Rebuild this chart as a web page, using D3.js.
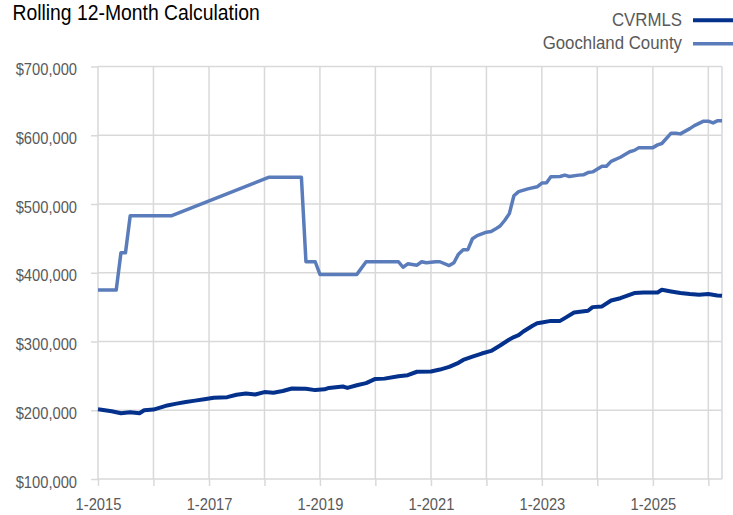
<!DOCTYPE html>
<html>
<head>
<meta charset="utf-8">
<script src="https://cdn.jsdelivr.net/npm/d3@7"></script>
<style>
  body { margin: 0; background: #fff; }
  svg { display: block; font-family: "Liberation Sans", Arial, sans-serif; }
  .grid line { stroke: #d9d9d9; stroke-width: 1.5; }
  .axis path { display: none; }
  .axis line { stroke: #d9d9d9; stroke-width: 1.5; }
  .axis text { fill: #595959; font-size: 16px; }
</style>
</head>
<body>
<svg id="chart"></svg>
<script>
const title = "Rolling 12-Month Calculation";
const seriesNames = ["CVRMLS", "Goochland County"];
const seriesColors = ["#04318c", "#5b7cbb"];

const cvrmlsMonths = ["2015-01","2015-04","2015-06","2015-08","2015-10","2015-11","2016-01","2016-03","2016-04","2016-06",
  "2016-08","2016-10","2016-12","2017-02","2017-05","2017-07","2017-09","2017-11","2018-01","2018-03",
  "2018-05","2018-07","2018-10","2018-12","2019-02","2019-03","2019-06","2019-07","2019-09","2019-11",
  "2020-01","2020-03","2020-06","2020-08","2020-10","2021-01","2021-03","2021-05","2021-07","2021-08",
  "2021-10","2021-12","2022-02","2022-04","2022-06","2022-07","2022-08","2022-09","2022-11","2022-12",
  "2023-01","2023-03","2023-05","2023-06","2023-08","2023-11","2023-12","2024-02","2024-04","2024-06",
  "2024-09","2024-11","2025-02","2025-03","2025-05","2025-07","2025-09","2025-11","2026-01","2026-03","2026-04"];
const cvrmlsValues = [201400,198500,195700,197000,195700,200000,201000,205000,207000,209600,
  212000,214000,216000,218300,219000,222600,224500,223000,226400,225500,
  228000,231700,231300,229300,230500,232500,234500,232500,236400,239500,
  245600,246000,249500,251000,256000,256300,259200,263000,269000,273200,
  278000,282500,286300,294200,302900,306400,309200,314600,323000,326600,
  327700,330000,330000,334000,342200,344700,350000,351000,359700,363000,
  370500,371300,371300,375300,372800,370500,369000,368000,369000,367000,366500];

const goochMonths = ["2015-01","2015-05","2015-06","2015-07","2015-08","2016-05","2018-02","2018-09","2018-10","2018-12",
  "2019-01","2019-09","2019-11","2020-06","2020-07","2020-08","2020-10","2020-11","2020-12","2021-02",
  "2021-03","2021-05","2021-06","2021-07","2021-08","2021-09","2021-10","2021-11","2022-01","2022-02",
  "2022-03","2022-04","2022-05","2022-06","2022-07","2022-08","2022-10","2022-12","2023-01","2023-02",
  "2023-03","2023-05","2023-06","2023-07","2023-09","2023-10","2023-11","2023-12","2024-02","2024-03",
  "2024-04","2024-06","2024-08","2024-09","2024-10","2025-01","2025-02","2025-03","2025-05","2025-06",
  "2025-07","2025-09","2025-10","2025-12","2026-01","2026-02","2026-03","2026-04"];
const goochValues = [375000,375000,429000,429000,483000,483000,539000,539000,416000,416000,
  397600,397600,416000,416000,408000,413000,411000,416000,414500,416000,
  416000,410500,414500,427000,433600,433600,449500,454000,459000,460000,
  463500,468000,476000,486000,512000,518000,522000,525000,530500,531000,
  539600,540000,542000,540000,542000,542400,545700,546700,555000,555000,
  562000,568000,576000,578000,582000,582000,586000,588000,603000,603000,
  602000,609600,614000,620500,620500,618000,621000,621000];

const yTicks = [100000, 200000, 300000, 400000, 500000, 600000, 700000];
const gridYears = d3.range(2015, 2027);
const labelYears = [2015, 2017, 2019, 2021, 2023, 2025];

// the reference uses a condensed face; squeeze Liberation Sans horizontally instead
function squeeze(sel, s) {
  sel.each(function () {
    const t = d3.select(this);
    const x0 = +(t.attr("x") || 0);
    t.attr("x", x0 / s).attr("transform", `scale(${s},1)`);
  });
}

class LineChart {
  margin = { top: 66.5, right: 11, bottom: 36, left: 98 }

  constructor(svg, width = 733, height = 515) {
    this.svg = d3.select(svg);
    this.width = width;
    this.height = height;
  }

  initialize() {
    this.svg.attr("width", this.width).attr("height", this.height);
    const m = this.margin;
    this.innerW = this.width - m.left - m.right;
    this.innerH = this.height - m.top - m.bottom;

    this.xScale = d3.scaleTime()
      .domain([new Date(2015, 0, 1), new Date(2026, 3, 1)])
      .range([m.left, m.left + this.innerW]);
    this.yScale = d3.scaleLinear()
      .domain([100000, 700000])
      .range([m.top + this.innerH, m.top]);
  }

  update(series) {
    const x = this.xScale, y = this.yScale, m = this.margin;
    const yearDate = yr => new Date(yr, 0, 1);

    // grid
    const grid = this.svg.append("g").attr("class", "grid");
    grid.selectAll("line.h").data(yTicks).join("line").attr("class", "h")
      .attr("x1", m.left).attr("x2", m.left + this.innerW)
      .attr("y1", d => y(d)).attr("y2", d => y(d));
    grid.selectAll("line.v").data(gridYears).join("line").attr("class", "v")
      .attr("x1", d => x(yearDate(d))).attr("x2", d => x(yearDate(d)))
      .attr("y1", m.top).attr("y2", m.top + this.innerH);
    grid.append("line")
      .attr("x1", m.left + this.innerW).attr("x2", m.left + this.innerW)
      .attr("y1", m.top).attr("y2", m.top + this.innerH);

    // axes
    const yAxis = this.svg.append("g").attr("class", "axis")
      .attr("transform", `translate(${m.left},0)`)
      .call(d3.axisLeft(y).tickValues(yTicks).tickSize(7).tickPadding(14)
        .tickFormat(d => "$" + d3.format(",")(d)));
    yAxis.selectAll("text").attr("dy", "0.5em").call(squeeze, 0.92);

    const xAxis = this.svg.append("g").attr("class", "axis")
      .attr("transform", `translate(0,${m.top + this.innerH})`)
      .call(d3.axisBottom(x).tickValues(gridYears.map(yearDate)).tickSize(7).tickPadding(13)
        .tickFormat(d => labelYears.includes(d.getFullYear()) ? "1-" + d.getFullYear() : ""));
    xAxis.selectAll("text").call(squeeze, 0.92);

    // lines
    const line = d3.line().x(d => x(d.date)).y(d => y(d.value));
    const parse = d3.timeParse("%Y-%m");
    series.slice().reverse().forEach(s => {
      const pts = s.months.map((mo, i) => ({ date: parse(mo), value: s.values[i] }));
      this.svg.append("path").datum(pts)
        .attr("fill", "none")
        .attr("stroke", s.color)
        .attr("stroke-width", s.width)
        .attr("stroke-linejoin", "round")
        .attr("d", line);
    });

    // title
    this.svg.append("text")
      .attr("x", 12.5).attr("y", 19.5)
      .attr("fill", "#000").attr("font-size", 21.5)
      .text(title)
      .call(squeeze, 0.9);

    // legend
    const legend = this.svg.append("g");
    const rows = legend.selectAll("g").data(series).join("g")
      .attr("transform", (d, i) => `translate(0,${i * 23.5})`);
    rows.append("text")
      .attr("x", 682).attr("y", 26)
      .attr("text-anchor", "end")
      .attr("fill", "#595959").attr("font-size", 18.5)
      .text(d => d.name)
      .call(squeeze, 0.91);
    rows.append("line")
      .attr("x1", 693).attr("x2", 740)
      .attr("y1", 20.3).attr("y2", 20.3)
      .attr("stroke", d => d.color)
      .attr("stroke-width", d => d.width);
  }
}

const chart = new LineChart("#chart");
chart.initialize();
chart.update([
  { name: seriesNames[0], color: seriesColors[0], width: 4, months: cvrmlsMonths, values: cvrmlsValues },
  { name: seriesNames[1], color: seriesColors[1], width: 3.5, months: goochMonths, values: goochValues }
]);
</script>
</body>
</html>
